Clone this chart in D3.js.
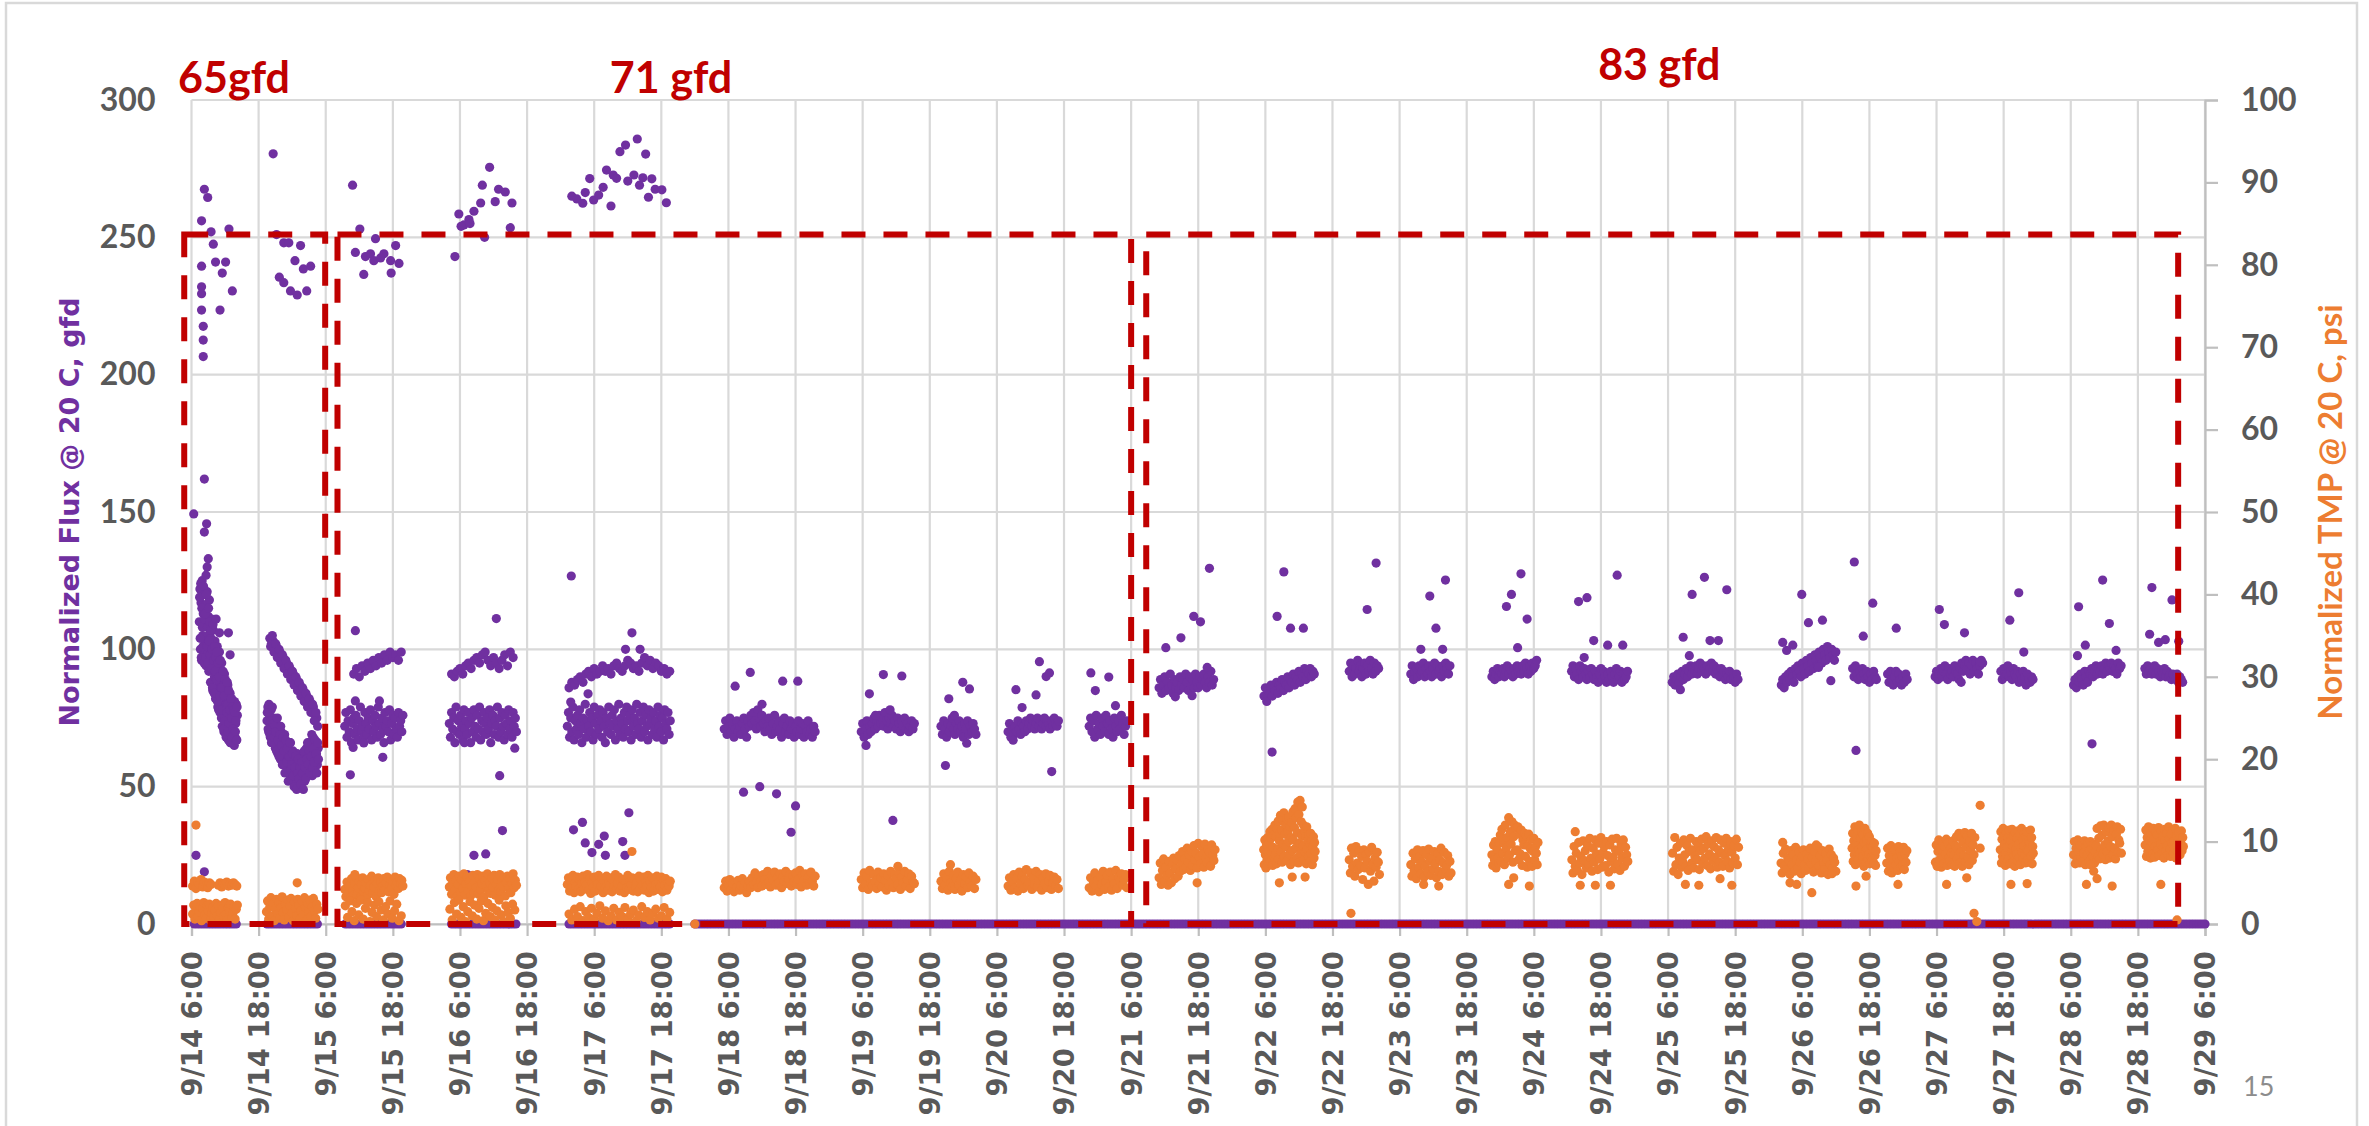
<!DOCTYPE html>
<html>
<head>
<meta charset="utf-8">
<script src="https://cdn.jsdelivr.net/npm/d3@7/dist/d3.min.js"></script>
<style>
  html, body { margin: 0; padding: 0; background: #fff; }
  svg { display: block; }
</style>
</head>
<body>
<div id="chart"></div>
<script>
// Colores
const COLOR_FLUX = '#7030A0',
  COLOR_TMP = '#ED7D31',
  COLOR_BOX = '#C00000',
  COLOR_GRID = '#D9D9D9',
  COLOR_TEXT = '#595959';

// Tiempo: horas contadas desde 9/14 0:00
const DAY0 = new Date(2019, 8, 14, 0);
const T_START = 6, T_END = 366;

// Ejes
const fluxTicks = [0, 50, 100, 150, 200, 250, 300];
const tmpTicks = [0, 10, 20, 30, 40, 50, 60, 70, 80, 90, 100];
const tickStepHours = 12;

// Flux: tramos densos [hora inicio, paso (h), valores gfd]
const fluxRuns = [
  [7.4, 0.1, [110,122,100,117,96,125,105,113,98,120, 103,116,94,109,121,99,112,92,118,106, 88,104,111,95,85,107,99,90,103,82, 97,86,101,79,93,88,99,77,91,84, 95,72,88,80,70,91,76,85,68,82, 74,87,67,80,71,84,66,77,82,69, 79,66,75,81,68,73,80,67,76]],
  [7.45, 0.1, [119,104,124,97,115,108,101,123,95,111, 113,97,120,101,108,95,115,103,110,98, 107,93,100,86,109,96,84,101,92,97, 89,99,81,95,78,90,83,96,86,75, 86,78,92,71,83,74,89,69,80,77, 80,70,85,73,78,66,82,75,68,79, 71,78,65,77,70,74,67,79]],
  [19.5, 0.15, [74,79,70,76,68,78,72,66,75,70, 64,73,68,62,71,66,60,70,64,67, 58,69,62,66,57,64,60,55,66,61, 56,63,53,60,58,52,62,55,59,51, 57,50,60,54,62,52,58,64,55,61, 56,66,59,63,54,68,60,57,65,62, 58,64]],
  [19.55, 0.15, [77,71,80,69,74,66,79,73,68,72, 70,63,75,67,61,69,72,65,58,68, 63,55,67,59,64,52,61,66,56,58, 62,54,50,57,61,49,55,60,53,57, 51,59,55,49,63,57,53,60,66,58, 63,55,61,69,57,64,59,67,62,55, 66,60]],
  [20.0, 0.3, [104,102,103,100,101,98,99,96,97,94,95,92,93,90,91,88,89,86,87,84,85,82,83,80,81,78,79,76,75]],
  [20.15, 0.3, [101,105,99,102,97,100,95,98,93,96,91,94,89,92,87,90,85,88,83,86,81,84,79,82,77,80,74,77,72]],
  [33.4, 0.2, [72,77,68,74,70,78,66,73,75,69, 76,71,67,74,79,70,72,68,77,73, 69,75,71,78,67,74,70,76,72,68, 79,73,69,75,71,66,77,72,74,70, 78,67,73,76,69,75,71,68,77,72, 74,70,76]],
  [35.0, 0.5, [91,93,90,94,92,95,93,96,94,97,95,98,96,99,97,98,96,99]],
  [52.1, 0.2, [73,68,77,71,75,66,79,70,74,69, 76,72,67,78,71,74,69,77,73,66, 75,70,78,72,68,76,71,79,67,74, 70,77,73,69,75,71,78,66,73,76, 69,74,72,79,68,75,70,77,72,67, 76,73,69,78,71,74,68,77,72,75, 70]],
  [52.5, 0.5, [91,90,92,93,91,94,95,93,96,97,95,98,99,96,94,97,95,93,96,98,94,99,97]],
  [73.2, 0.2, [72,77,68,75,70,79,67,74,71,76, 69,78,73,66,75,71,80,68,74,72, 77,70,75,67,79,73,69,76,71,78, 74,68,77,72,66,75,70,79,73,69, 76,72,78,67,74,71,80,69,75,73, 68,77,71,79,74,70,76,67,78,72, 75,69,80,73,71,77,68,74,79,70, 76,72,67,78,73,75,69,77,71,74, 68,79,72,76,70,75,67,78,73,71, 77,69,74]],
  [73.5, 0.5, [86,88,87,89,90,88,91,92,90,93,91,92,94,92,93,91,94,95,93,92,94,96,95,93,94,92,95,97,94,96,93,95,94,92,93,91,92]],
  [101.25, 0.25, [71,74,69,72,75,70,73,68,71,74, 70,72,69,73,75,71,68,74,72,76, 73,77,74,71,78,75,72,76,73,70, 74,72,75,71,69,73,76,70,72,74, 71,68,73,75,70,72,69,74,71,73, 68,72,70,74,69,71,73,68,72,70, 74,69,71,68,72,70]],
  [125.75, 0.25, [70,73,68,71,74,69,72,70,73,75, 71,74,72,76,73,75,72,77,74,71, 75,73,76,72,74,71,75,73,70,74, 72,75,71,73,70,72,74,71,73]],
  [140, 0.25, [72,69,74,71,68,73,70,72,75,71, 69,73,71,74,70,72,68,73,71,74, 69,72,70,73,71,69]],
  [152, 0.25, [70,73,68,71,69,72,70,74,71,69, 73,72,70,74,71,73,75,72,74,71, 73,75,72,74,71,73,75,72,74,73, 71,74,72,75,73,72,74]],
  [166.5, 0.25, [72,75,70,74,68,76,71,73,69,75, 72,70,76,73,69,74,71,68,75,72, 70,74,71,76,73,69,72,74]],
  [179, 0.25, [86,89,84,87,90,85,88,86,91,87, 84,89,86,88,85,90,87,89,86,91, 88,85,90,87,89,86,91,88,86,90, 87,89,91,88,86,90,88,92,87,89]],
  [197.75, 0.25, [83,86,81,85,84,87,83,86,85,88, 84,87,86,89,85,88,87,90,86,89, 88,91,87,90,89,92,88,91,90,93, 89,92,91,93,90,92,91]],
  [213, 0.25, [92,95,90,94,91,93,96,92,94,90, 93,95,91,94,92,96,93,91,95,92, 94,93]],
  [224, 0.25, [91,94,89,92,93,90,94,91,92,95, 90,93,91,94,92,90,93,95,91,94, 92,93,90,94,92,95,93,91,94]],
  [238.5, 0.25, [90,92,89,91,93,90,92,91,93,90, 92,94,91,93,92,90,93,91,94,92, 93,91,94,92,95,93,91,94,92,95, 93,94,96]],
  [252.75, 0.25, [92,94,90,93,91,89,94,92,90,93, 91,89,92,90,93,91,89,92,90,88, 91,93,89,92,90,88,91,89,92,90, 88,91,93,89,90,92,88,91,89,90, 92]],
  [270.75, 0.25, [88,90,87,89,91,88,90,92,89,91, 93,90,92,94,91,93,92,94,91,93, 95,92,94,93,91,94,92,93,95,92, 94,91,93,92,90,93,91,92,89,91, 90,92,89,91,90,88,91,89]],
  [290.25, 0.25, [87,89,86,90,88,91,89,92,90,88, 93,91,94,92,90,95,93,91,96,94, 92,97,95,93,98,96,94,99,97,95, 100,98,96,101,99,97,100,98,96,99]],
  [303, 0.25, [93,90,94,91,89,92,90,93,91,89, 92,90,88,91,89,92,90,89]],
  [309.25, 0.25, [91,88,92,89,87,90,92,88,91,89, 87,90,88,91,89]],
  [317.75, 0.25, [90,92,89,91,93,90,92,94,91,89, 93,91,92,90,94,92,91,89,93,95, 92,94,96,93,95,91,94,96,92,95, 93,91,94,96,95]],
  [329.5, 0.25, [92,89,93,90,91,94,90,92,89,93, 91,90,92,88,91,89,92,90,87,91, 89,88,90,89]],
  [342.5, 0.25, [87,89,86,90,88,91,89,87,92,90, 88,92,91,93,90,92,94,91,93,92, 94,91,93,95,92,94,93,95,92,94, 93,91,95,93,94]],
  [355.25, 0.25, [93,91,94,92,93,91,92,94,91,93, 92,90,92,91,93,90,92,90,91,89, 91,90,89,91,88,90,89,88]]
];

// Flux: puntos sueltos [hora, gfd]
const fluxPoints = [
  [8.3,267.5],[8.9,264.5],[7.8,256],[9.5,252],[12.7,253],[9.9,247.5],[7.8,239.5],[10.3,241],[12.1,241],[11.5,237],
  [7.8,232],[7.8,229.5],[13.3,230.5],[11.1,223.5],[7.8,223.5],[8.1,217.6],[8.1,212.6],[8.1,206.6],
  [8.3,162],[6.4,149.3],[8.7,145.7],[8.3,142.7],[9.0,133],[8.8,130],[8.6,127],[10.4,111],[11.0,106],[12.6,106],[12.9,98],[12.4,88],[6.8,25],[8.3,19],
  [20.6,280.4],[21.2,251],[22.5,248],[23.4,248],[25.5,247],[24.5,241.5],[26,238.5],[27.3,239.5],[21.7,235.5],[22.5,233.5],[23.7,230.5],[24.9,229],[26.6,230.5],
  [34.8,269],[36.1,253],[38.9,249.5],[42.5,247],[35.3,244.5],[37.1,243],[38,244],[40.4,244],[41.6,241.5],[36.8,236.5],[41.7,237],[43.1,240.5],[38.6,241.5],[39.8,242.5],
  [35.3,106.8],[35.3,81.2],[39.6,81.2],[34.9,64.3],[40.2,60.7],[34.4,54.3],[36.8,65.9],
  [53.1,243],[53.8,258.5],[54.7,254.5],[55.6,256.5],[56.5,259.5],[57.7,262.5],[58,269],[59.3,275.5],[60.3,263],[60.9,267.5],[62.1,266.5],[63.3,262.5],[63,253.5],[58.4,250],[54.2,254],[55.8,255],
  [60.5,111.2],[61.1,54],[63.8,64],[54.8,66],[56.5,25],[58.6,25.5],[61.6,34],[55.3,18],
  [74,265],[74.9,264],[75.96,262.4],[76.4,266.3],[77.2,271.4],[77.9,263.6],[78.8,265.4],[79.6,268.2],[80.2,274.5],[81,261.4],[81.4,272.7],[82,271.5],
  [82.6,281.2],[83.6,283.6],[85.7,285.8],[87.2,280.3],[84,270.5],[85.1,272.7],[86.1,269],[86.7,271.7],[88.3,271.3],[87.7,264.6],[88.9,267.5],[90.1,267.3],[90.9,262.6],
  [73.9,126.7],[73.8,80.8],[76.9,83.8],[84.75,106],[83.6,100],[86.2,100],[74.3,34.3],[75.9,37],[76.4,29.5],[78.8,29],[80,25],[79.8,32],[83.1,30],[84.2,40.5],[83.5,25],[77.6,26],
  [103.2,86.6],[105.9,91.6],[111.7,88.4],[114.4,88.4],[108,80],[104.7,48],[107.6,50],[110.6,47.4],[114,43],[113.2,33.4],
  [127.2,83.8],[129.7,90.8],[133,90.3],[128.3,76],[130.9,78],[126.6,65],[131.4,37.7],
  [141.4,82],[143.9,88],[145.1,85.6],[142.4,76],[140.8,57.7],[144.6,65.8],
  [153.4,85.3],[154.5,78.8],[157,83.4],[157.6,95.5],[158.8,90.1],[159.4,91.4],[159.8,55.5],[152.9,66.9],
  [166.8,91.4],[170,89.9],[167.6,85],[171.2,79.5],
  [180.2,100.6],[182.9,104.2],[185.2,112],[186.4,110],[188,129.5],[187.6,93.4],[181.9,82.7],[184.9,83.1],
  [201.3,128.2],[200.1,112],[202.5,107.7],[204.8,107.7],[199.2,62.6],
  [216.2,114.5],[217.8,131.4],
  [227.4,119.4],[230.2,125.2],[228.5,107.7],[225.8,100],[229.7,100],
  [243.7,127.5],[242,120],[241.1,115.6],[244.8,111],[243.1,100.6],
  [254,117.4],[255.5,118.8],[260.9,127],[256.7,103.2],[259.2,101.5],[261.9,101.5],[255,97],
  [274.3,120],[276.5,126.2],[280.5,121.7],[272.7,104.4],[277.5,103.2],[279,103.2],[273.8,97.7],[272.2,85.3],
  [293.9,120],[295.1,109.7],[297.6,110.6],[290.5,102.5],[292.3,101.5],[291.2,99.6],[296.9,93.4],[299.1,88.6],
  [303.3,131.8],[304.9,104.8],[306.6,116.8],[303.6,63.2],
  [310.8,107.7],
  [318.5,114.5],[319.4,109],[323,106],[325.8,95.5],[322.4,88],
  [332.7,120.6],[331.1,110.6],[333.6,99],
  [343.4,115.5],[347.7,125.2],[348.9,109.4],[344.6,101.5],[343.2,97.7],[350.1,99.6],[345.8,65.6],
  [356.5,122.5],[360.1,118],[356.1,105.5],[357.7,102.5],[358.9,103.5],[361.3,102.9]
];

// Flux = 0 registrado cada media hora entre [inicio, fin]
const fluxZeroRuns = [[6.5, 14], [19.5, 28.5], [33.5, 43.5], [52.5, 64], [73.5, 91.5], [96, 366]];
const fluxZeroStep = 0.5;

// TMP: tramos densos [hora inicio, paso (h), valores psi]
const tmpRuns = [
  [6.2, 0.2, [1.2,2.3,0.6,1.8,2.5,0.9,1.5,2.1,0.4,1.9, 2.6,1.1,0.7,2.2,1.6,2.4,0.5,1.3,2.0,0.8, 1.7,2.5,1.0,2.2,0.6,1.4,2.3,1.9,0.9,2.6, 1.2,0.5,2.0,1.6,2.4,0.8,1.3,2.1,0.6,1.8, 2.3]],
  [6.2, 0.3, [4.6,5.2,4.3,5.0,4.8,5.4,4.5,5.1,4.7,4.4,5.0,4.8]],
  [10.8, 0.3, [4.7,5.0,4.5,4.9,4.8,5.1,4.6,4.9,4.7,5.0,4.8,4.6]],
  [19.4, 0.2, [1.5,2.8,0.6,2.1,3.2,1.0,2.5,0.4,1.8,3.0, 1.2,2.6,0.7,2.0,3.3,1.4,0.5,2.4,1.7,2.9, 0.8,2.2,3.1,1.3,0.4,2.7,1.9,1.0,3.0,2.3, 0.6,1.6,2.8,1.1,3.2,2.0,0.5,2.5,1.4,2.9, 0.9,2.1,3.1,1.6,0.7,2.4,1.8]],
  [33.4, 0.2, [4.2,3.3,5.1,3.8,4.6,3.1,5.5,4.0,3.5,4.9, 5.7,3.6,4.4,5.2,3.2,4.8,5.6,3.9,4.3,5.0, 3.4,5.4,4.1,4.7,5.8,3.7,4.5,5.3,3.3,4.9, 5.6,4.0,5.1,3.8,4.6,5.5,4.2,5.0,5.7,3.9, 4.8,5.4,4.4,5.2,3.6,5.7,4.7,5.0,4.3,5.5, 4.9,5.3,4.6]],
  [33.5, 0.4, [2.2,0.8,2.8,1.5,0.4,2.5,1.1,2.9,0.6,1.9, 2.6,0.3,1.4,2.3,0.9,2.7,1.7,0.5,2.1,1.2, 2.8,0.7,1.6,2.4,0.4,1.0]],
  [52.1, 0.2, [4.5,5.6,3.6,5.0,6.0,4.1,5.3,3.3,4.8,5.8, 3.9,5.4,4.3,6.1,3.5,4.9,5.7,4.0,5.2,3.4, 4.6,5.9,3.8,5.1,4.4,6.0,3.6,5.5,4.2,4.9, 5.8,3.3,5.3,4.7,6.1,4.0,5.0,3.7,5.6,4.5, 5.9,3.5,4.8,5.4,4.1,6.0,3.9,5.2,4.6,5.7, 3.4,5.0,5.8,4.3,5.5,3.8,4.9,6.1,4.4,5.3, 4.7]],
  [52.2, 0.4, [1.8,0.5,2.6,1.2,2.9,0.8,2.1,0.3,1.5,2.7, 1.0,2.3,0.6,1.9,2.8,0.4,1.3,2.5,0.9,2.0, 0.5,1.6,2.9,1.1,0.3,2.2,1.4,0.7,2.4,1.7]],
  [73.2, 0.2, [4.8,5.6,4.0,5.2,4.4,5.9,3.8,5.0,4.6,5.7, 4.2,5.4,3.9,4.9,5.8,4.3,5.1,4.7,6.0,4.1, 5.5,3.7,5.0,4.5,5.7,4.0,5.3,4.8,5.9,4.2, 4.6,5.5,3.8,5.2,4.4,5.8,4.1,5.0,4.7,5.6, 3.9,5.3,4.5,6.0,4.3,4.9,5.7,4.0,5.1,4.6, 5.4,3.8,5.0,4.4,5.9,4.2,5.2,4.8,5.6,4.0, 5.5,4.5,5.0,3.9,5.8,4.3,5.3,4.7,5.7,4.1, 5.0,4.6,5.9,3.8,5.2,4.4,5.6,4.0,5.4,4.8, 5.8,4.2,5.1,4.5,5.7,3.9,5.3,4.7,5.5,4.1, 5.0,4.6,5.2]],
  [73.5, 0.5, [1.2,0.5,1.8,0.9,2.1,0.4,1.5,0.8,1.9,0.6, 1.3,2.2,0.7,1.6,0.4,1.0,1.9,0.5,1.4,0.9, 2.0,0.6,1.2,1.7,0.4,1.1,2.1,0.8,1.5,0.5, 1.3,1.8,0.7,1.0,2.0,0.6,1.4]],
  [101.25, 0.25, [4.4,5.2,4.0,4.8,5.4,4.2,4.9,3.9,5.1,4.5, 5.3,4.1,4.7,5.5,4.3,5.0,3.8,4.6,5.2,4.4, 5.6,4.8,6.2,5.0,4.4,5.8,5.2,4.6,6.0,5.4, 4.8,6.4,5.1,4.5,5.9,5.3,6.3,4.7,5.6,5.0, 6.1,4.4,5.7,5.2,6.4,4.9,5.5,6.0,4.6,5.8, 5.1,6.2,4.8,5.4,6.5,4.5,5.9,5.3,6.1,4.7, 5.6,5.0,6.3,5.2,4.6,5.8]],
  [125.75, 0.25, [5.4,4.4,6.2,4.8,5.8,4.2,6.5,5.0,4.6,6.0, 5.2,4.3,6.3,4.9,5.6,4.5,6.1,5.3,4.1,5.9, 4.7,6.4,5.1,4.4,6.0,5.5,4.8,6.2,4.2,5.7, 5.0,6.4,4.6,5.4,6.1,4.3,5.8,5.1,4.9]],
  [140, 0.25, [5.2,4.3,6.1,4.8,5.6,4.1,6.4,5.0,4.5,5.9, 4.2,5.5,6.3,4.7,5.3,4.0,6.0,4.9,5.7,4.4, 6.2,5.1,4.6,5.8,4.3,5.4]],
  [152, 0.25, [4.6,5.6,4.1,5.2,6.0,4.4,5.5,4.0,6.3,4.9, 5.8,4.3,5.4,6.6,4.7,5.1,6.2,4.2,5.7,4.8, 6.4,4.5,5.3,6.0,4.1,5.6,4.9,6.1,4.4,5.2, 5.9,4.2,5.0,5.7,4.6,5.4,4.3]],
  [166.5, 0.25, [4.4,5.6,4.0,5.0,6.2,4.6,5.3,3.9,5.8,4.8, 6.4,4.2,5.1,5.9,4.5,6.3,4.1,5.5,4.9,6.5, 4.3,5.7,5.2,6.1,4.7,5.4,6.0,4.4]],
  [179, 0.2, [5.6,7.4,4.8,6.5,7.9,5.2,6.9,5.9,4.7,7.6, 6.2,5.0,7.2,8.0,5.5,6.7,7.8,5.8,8.3,6.4, 7.3,8.8,6.6,7.9,6.9,9.2,7.5,8.4,6.5,8.9, 7.1,9.5,7.8,8.6,6.8,9.8,8.1,7.3,9.4,8.5, 6.9,9.7,8.0,7.5,9.1,8.7,7.0,9.6,8.3,7.7, 9.0]],
  [197.7, 0.1, [9.0,7.2,10.2,8.4,6.8,9.6,7.8,10.5,8.8,7.4, 9.8,11.2,7.6,10.4,8.6,11.5,7.1,9.3,10.8,8.1, 12.0,8.4,10.6,7.3,11.6,9.1,12.5,7.9,10.1,11.0, 13.2,8.8,11.4,7.5,12.6,9.7,13.5,8.2,10.9,12.1, 9.4,12.8,7.7,11.2,10.0,13.0,8.5,11.8,7.2,10.5, 12.3,8.9,13.6,10.2,7.6,11.7,14.0,9.2,12.9,8.0, 11.1,14.8,7.4,13.3,9.8,15.0,8.6,12.4,10.7,14.2, 9.5,12.0,7.8,11.3,8.7,10.6,7.3,11.8,9.1,10.2, 8.2,10.8,7.5,9.7,11.0,8.6,10.1,7.2,9.3,10.6,8.0,9.9,8.8]],
  [213, 0.2, [7.8,6.2,9.2,7.0,8.6,5.8,9.4,7.4,6.6,8.9, 7.1,8.2,5.4,9.0,6.8,8.4,7.6,4.8,8.8,6.4, 9.3,7.2,5.2,8.0,6.9,8.7,7.5,6.0]],
  [224, 0.2, [7.2,5.8,8.6,6.5,7.9,5.5,9.0,6.9,8.2,6.1, 7.5,8.9,5.7,7.0,8.4,6.3,9.1,7.7,5.9,8.0, 6.7,8.8,7.3,5.6,8.5,6.4,7.8,9.2,6.0,7.4, 8.7,6.6,7.1,8.3,5.8,7.6,6.2]],
  [238.5, 0.15, [8.4,7.1,9.6,7.8,10.0,6.8,9.0,8.0,7.4,9.8, 10.8,7.6,11.5,8.6,9.9,7.2,12.0,9.2,10.5,8.0, 12.9,8.4,11.2,9.7,12.4,7.5,10.6,12.0,8.9,11.6, 9.0,11.8,7.8,10.9,8.5,11.4,7.1,10.2,9.6,11.0, 8.2,10.7,6.9,9.5,10.9,7.6,9.1,10.3,7.0,8.8, 10.4,7.8,9.4,8.6,7.2,9.9]],
  [252.8, 0.2, [7.8,6.2,9.4,7.0,8.6,6.5,9.9,7.4,8.2,6.0, 10.1,7.7,8.9,6.8,9.6,7.2,10.4,8.0,6.4,9.2, 7.5,10.2,8.5,6.6,9.8,7.9,10.5,6.9,8.7,9.4, 7.1,10.0,8.3,6.3,9.6,7.6,10.3,8.1,6.7,9.0, 10.4,7.3,8.8,6.5,9.7,8.0,10.2,7.0,9.3,8.4, 7.6]],
  [270.8, 0.2, [8.6,6.4,10.5,7.2,9.3,6.0,8.0,9.8,6.9,7.6, 10.2,8.4,7.0,9.5,6.5,8.8,10.4,7.4,9.0,6.8, 8.2,10.0,7.8,9.6,6.6,8.9,10.3,7.3,9.2,8.0, 10.6,7.1,9.7,8.5,6.7,10.1,7.7,9.4,8.1,10.5, 6.9,9.0,7.5,10.2,8.6,7.0,9.8,8.3,10.4,7.6, 9.1,6.8,10.0,8.7,7.4,9.5,8.0,10.3,7.2,9.3]],
  [290.2, 0.2, [7.4,6.2,8.6,7.0,9.1,6.6,8.0,7.7,6.0,8.9, 7.2,8.4,6.4,9.3,7.8,6.8,8.7,7.5,6.1,8.2, 9.0,7.1,6.5,8.5,7.9,6.9,9.2,7.3,8.1,6.3, 8.8,7.6,6.7,9.4,7.0,8.3,6.2,8.9,7.4,6.6, 8.6,7.8,6.0,9.1,7.2,8.4,6.8,8.0,7.5,6.4]],
  [302.9, 0.1, [9.2,11.0,7.6,10.1,8.4,11.8,7.2,9.7,10.6,8.0, 11.4,7.8,9.0,12.0,8.6,10.4,7.4,11.2,9.4,8.2, 10.8,7.0,9.9,11.6,8.8,7.5,10.2,9.1,11.0,7.9, 8.5,10.6,7.3,9.6,8.1,10.0,7.7,9.3,8.7,7.4, 9.8,8.3,7.1,8.9]],
  [309.1, 0.15, [7.4,9.2,6.4,8.3,7.0,9.5,6.2,8.6,7.8,6.8, 9.0,7.2,8.0,6.5,9.4,7.6,8.8,6.9,8.2,7.1, 9.3,6.6,8.5,7.5,8.9]],
  [317.8, 0.15, [7.5,9.6,7.0,8.8,10.2,7.8,9.0,6.9,10.0,8.2, 7.3,9.4,8.5,10.3,7.1,9.8,8.0,7.6,9.2,8.6, 7.2,10.1,8.4,7.0,9.5, 10.6,7.9,9.1,11.0,7.4,8.7,10.4,7.0,9.9,8.3, 11.1,7.6,9.3,10.7,8.1,7.2,10.0,8.9,11.0,7.7, 9.6,8.4,10.5]],
  [329.4, 0.1, [9.0,11.2,7.4,10.3,8.2,11.6,7.8,9.6,10.8,7.1, 8.6,11.0,9.3,7.6,10.5,8.0,11.4,9.8,7.3,10.1, 8.8,11.5,7.5,9.4,10.7,8.3,7.0,11.1,9.1,8.5, 10.4,7.7,11.3,9.7,8.1,10.9,7.2,9.2,11.6,8.7, 10.2,7.9,9.5,11.0,8.4,7.4,10.6,9.0,11.2,7.8, 8.9,10.0,7.5,9.9,11.4,8.2,10.5,7.3,9.4,8.6]],
  [342.5, 0.15, [8.4,10.0,7.3,9.2,7.8,10.2,8.8,7.4,9.6,8.1, 9.9,7.6,8.6,10.1,7.2,9.4,8.3,9.8,7.5,8.9, 10.0,7.9,9.1,8.2,9.7,7.4,8.7,9.5, 11.6,8.2,10.4,7.9,11.9,9.0,10.8,8.5,12.0,9.6, 7.8,11.2,8.8,10.1,11.7,8.0,9.4,12.0,10.6,8.4, 11.4,9.2,7.9,10.9,11.8,8.7,10.2,9.8,11.5,8.6]],
  [355.3, 0.12, [9.6,11.4,8.2,10.5,8.8,11.8,9.2,10.1,8.0,11.0, 9.9,8.5,11.6,10.3,8.1,9.4,11.2,8.7,10.8,9.0, 11.7,8.3,10.0,9.7,11.3,8.6,10.6,9.3,8.0,11.5, 10.2,8.9,11.0,9.5,8.4,11.8,10.4,9.1,8.2,10.9, 9.8,11.4,8.6,10.1,9.2,11.6,8.0,10.7,9.6,8.8, 11.1,10.3,8.4,9.9,11.3,8.9,10.5,9.4]]
];

// TMP: puntos sueltos [hora, psi]
const tmpPoints = [
  [6.8,12.0],[24.9,5.0],[35.2,6.0],[84.75,8.8],[96,0.0],[132.3,7.0],[141.7,7.2],[185.8,5.0],[200.5,5.0],[202.8,5.7],[205.1,5.7],
  [213.3,1.3],[229,4.6],[226.3,4.8],[241.5,4.8],[245.2,4.6],[242.4,5.6],[253.4,11.2],[254.3,4.7],[257,4.7],[259.7,4.7],
  [273.1,4.8],[275.5,4.7],[279.3,5.5],[281.4,4.7],[290.5,9.9],[296.5,9.6],[291.8,5.0],[293,4.8],[295.7,3.8],[299.3,6.1],
  [303.6,4.6],[305.4,5.8],[311.1,4.8],[325.8,14.4],[325.8,9.2],[319.8,4.8],[323.4,5.6],[324.7,1.3],[325.2,0.3],
  [331.3,4.8],[334.2,4.9],[345.5,7.2],[346.1,6.4],[346.7,5.5],[344.8,4.8],[349.4,4.6],[358.1,4.8],[361,0.5]
];

// Recuadros de anotación [hora inicio, hora fin], hasta flux 251
const boxHours = [[4.7, 29.9], [32.1, 174], [176.7, 361.2]];
const boxTop = 251;
const fluxLabels = ['65gfd', '71 gfd', '83 gfd'];
const fluxLabelHours = [3.6, 80.8, 257.5];

// Lienzo
const W = 2369, H = 1126;
const margin = {top: 100, right: 164, bottom: 202, left: 191.5};
const width = W - margin.left - margin.right,
  height = H - margin.top - margin.bottom;

const at = h => new Date(DAY0.getTime() + h * 3600e3);

const svg = d3.select('#chart').append('svg')
  .attr('width', W).attr('height', H)
  .style('font-family', 'Lato, sans-serif');

svg.append('rect').attr('width', W).attr('height', H).attr('fill', '#fff');
// marco de la diapositiva
svg.append('rect')
  .attr('x', 6).attr('y', 3).attr('width', 2351).attr('height', 1140)
  .attr('fill', 'none').attr('stroke', '#D9D9D9').attr('stroke-width', 2.5);

const chart = svg.append('g')
  .attr('transform', 'translate(' + margin.left + ',' + margin.top + ')');

// Escalas
const x = d3.scaleTime().domain([at(T_START), at(T_END)]).range([0, width]);
const yFlux = d3.scaleLinear().domain([0, 300]).range([height, 0]);
const yTmp = d3.scaleLinear().domain([0, 100]).range([height, 0]);

const tickDates = d3.timeHour.range(at(T_START), at(T_END + 1), tickStepHours);

// Rejilla
chart.append('g').selectAll('line')
  .data(fluxTicks)
  .enter().append('line')
  .attr('x1', 0).attr('x2', width)
  .attr('y1', d => yFlux(d)).attr('y2', d => yFlux(d))
  .attr('stroke', COLOR_GRID).attr('stroke-width', 2.2);

chart.append('g').selectAll('line')
  .data(tickDates)
  .enter().append('line')
  .attr('x1', d => x(d)).attr('x2', d => x(d))
  .attr('y1', 0).attr('y2', height)
  .attr('stroke', COLOR_GRID).attr('stroke-width', 2.2);

// Eje X
const xAxis = chart.append('g')
  .attr('transform', 'translate(0,' + height + ')')
  .call(d3.axisBottom(x).tickValues(tickDates).tickFormat(d3.timeFormat('%-m/%-d %-H:%M')).tickSize(12));
xAxis.select('.domain').attr('stroke', '#BFBFBF').attr('stroke-width', 2.2);
xAxis.selectAll('.tick line').attr('stroke', '#BFBFBF').attr('stroke-width', 2.2);
xAxis.selectAll('text')
  .attr('transform', 'rotate(-90)')
  .attr('x', -27).attr('y', 0).attr('dy', '0.36em')
  .style('text-anchor', 'end')
  .style('font-family', '"DejaVu Sans", Verdana, sans-serif')
  .style('font-weight', 'bold')
  .style('font-size', '27.5px')
  .attr('fill', COLOR_TEXT);

// Eje Y izquierdo
const yAxisL = chart.append('g')
  .call(d3.axisLeft(yFlux).tickValues(fluxTicks).tickSize(0).tickPadding(36));
yAxisL.select('.domain').remove();
yAxisL.selectAll('text')
  .style('font-family', 'Lato, sans-serif').style('font-weight', 'bold').style('font-size', '32px')
  .attr('fill', COLOR_TEXT);

// Eje Y derecho
const yAxisR = chart.append('g')
  .attr('transform', 'translate(' + width + ',0)')
  .call(d3.axisRight(yTmp).tickValues(tmpTicks).tickSize(13).tickPadding(23));
yAxisR.select('.domain').attr('stroke', '#BFBFBF').attr('stroke-width', 2.2);
yAxisR.selectAll('.tick line').attr('stroke', '#BFBFBF').attr('stroke-width', 2.2);
yAxisR.selectAll('text')
  .style('font-family', 'Lato, sans-serif').style('font-weight', 'bold').style('font-size', '32px')
  .attr('fill', COLOR_TEXT);

// Datos
const expand = runs => runs.flatMap(([t0, step, vals]) => vals.map((v, i) => [t0 + i * step, v]));
const zeroPoints = fluxZeroRuns.flatMap(([a, b]) => d3.range(a, b + 1e-6, fluxZeroStep).map(t => [t, 0]));
const fluxData = zeroPoints.concat(expand(fluxRuns), fluxPoints);
const tmpData = expand(tmpRuns).concat(tmpPoints);

const R = 4.6;
chart.append('g').selectAll('circle')
  .data(fluxData)
  .enter().append('circle')
  .attr('cx', d => x(at(d[0])))
  .attr('cy', d => yFlux(d[1]))
  .attr('r', R)
  .attr('fill', COLOR_FLUX);

chart.append('g').selectAll('circle')
  .data(tmpData)
  .enter().append('circle')
  .attr('cx', d => x(at(d[0])))
  .attr('cy', d => yTmp(d[1]))
  .attr('r', R)
  .attr('fill', COLOR_TMP);

// Recuadros rojos
chart.append('g').selectAll('rect')
  .data(boxHours)
  .enter().append('rect')
  .attr('x', d => x(at(d[0])))
  .attr('y', yFlux(boxTop))
  .attr('width', d => x(at(d[1])) - x(at(d[0])))
  .attr('height', yFlux(0) - yFlux(boxTop))
  .attr('fill', 'none')
  .attr('stroke', COLOR_BOX)
  .attr('stroke-width', 6)
  .attr('stroke-dasharray', '24 18');

// Etiquetas de flux
chart.append('g').selectAll('text')
  .data(fluxLabels)
  .enter().append('text')
  .attr('x', (d, i) => x(at(fluxLabelHours[i])))
  .attr('y', (d, i) => i === 2 ? -20 : -7)
  .text(d => d)
  .style('font-family', 'Lato, sans-serif').style('font-weight', 'bold').style('font-size', '43px')
  .attr('fill', COLOR_BOX);

// Títulos de ejes
svg.append('text')
  .attr('transform', 'translate(70,' + (margin.top + height / 2) + ') rotate(-90)')
  .attr('text-anchor', 'middle').attr('dy', '0.35em')
  .style('font-family', '"DejaVu Sans", Verdana, sans-serif').style('font-weight', 'bold').style('font-size', '27px')
  .attr('fill', COLOR_FLUX)
  .text('Normalized Flux @ 20 C, gfd');

svg.append('text')
  .attr('transform', 'translate(2330,' + (margin.top + height / 2) + ') rotate(-90)')
  .attr('text-anchor', 'middle').attr('dy', '0.35em')
  .style('font-family', 'Lato, sans-serif').style('font-weight', 'bold').style('font-size', '33px')
  .attr('fill', COLOR_TMP)
  .text('Normalized TMP @ 20 C, psi');

// Número de página
svg.append('text')
  .attr('x', 2243).attr('y', 1096)
  .style('font-family', 'Lato, sans-serif').style('font-size', '27px')
  .attr('fill', '#8C8C8C')
  .text('15');
</script>
</body>
</html>
